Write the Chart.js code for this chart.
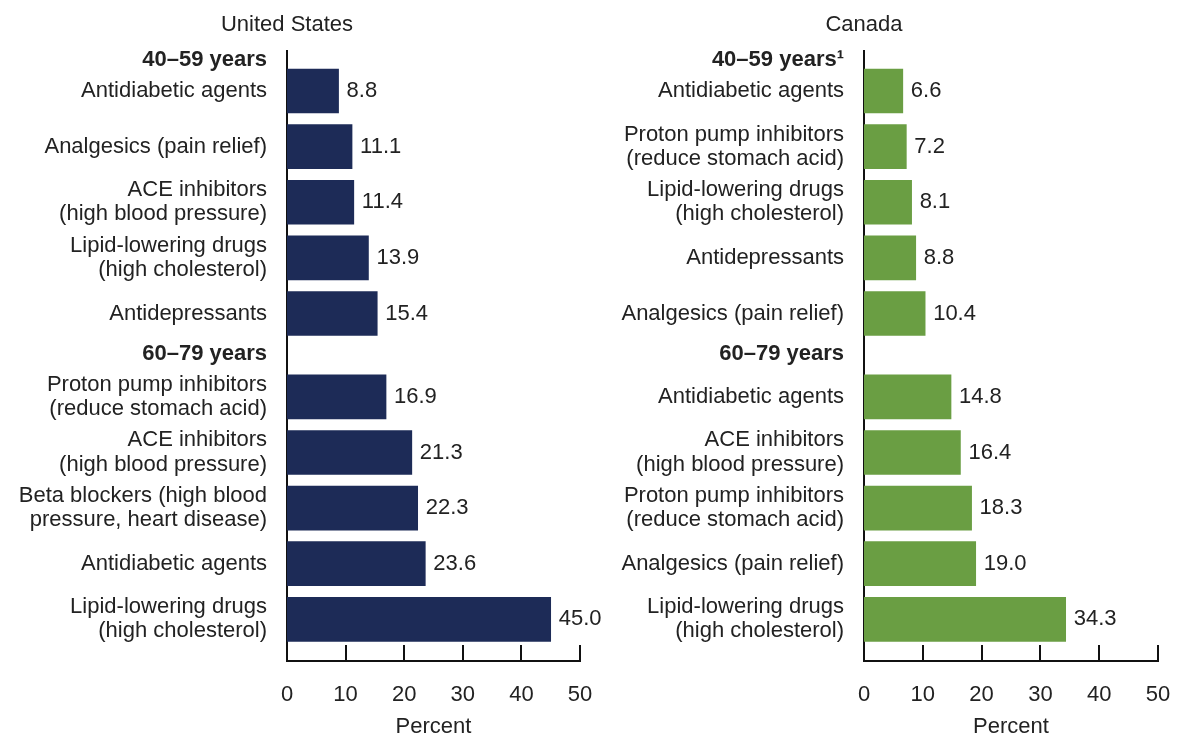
<!DOCTYPE html>
<html>
<head>
<meta charset="utf-8">
<script src="https://cdn.jsdelivr.net/npm/chart.js@4.4.1/dist/chart.umd.min.js"></script>
<style>
  html, body { margin: 0; padding: 0; background: #ffffff; }
  #wrap { position: relative; width: 1180px; height: 740px; overflow: hidden; }
  .panel { position: absolute; top: 0; height: 740px; }
</style>
</head>
<body>
<div id="wrap">
  <div class="panel" style="left:0;width:620px"><canvas id="us" width="620" height="740"></canvas></div>
  <div class="panel" style="left:590px;width:590px"><canvas id="ca" width="590" height="740"></canvas></div>
</div>
<script>
// ---- data ----
const usAgeGroups = ['40–59 years', '60–79 years'];
const caAgeGroups = ['40–59 years¹', '60–79 years'];

const usDrugs4059 = [
  ['Antidiabetic agents'],
  ['Analgesics (pain relief)'],
  ['ACE inhibitors', '(high blood pressure)'],
  ['Lipid-lowering drugs', '(high cholesterol)'],
  ['Antidepressants']
];
const usValues4059 = [8.8, 11.1, 11.4, 13.9, 15.4];

const usDrugs6079 = [
  ['Proton pump inhibitors', '(reduce stomach acid)'],
  ['ACE inhibitors', '(high blood pressure)'],
  ['Beta blockers (high blood', 'pressure, heart disease)'],
  ['Antidiabetic agents'],
  ['Lipid-lowering drugs', '(high cholesterol)']
];
const usValues6079 = [16.9, 21.3, 22.3, 23.6, 45.0];

const caDrugs4059 = [
  ['Antidiabetic agents'],
  ['Proton pump inhibitors', '(reduce stomach acid)'],
  ['Lipid-lowering drugs', '(high cholesterol)'],
  ['Antidepressants'],
  ['Analgesics (pain relief)']
];
const caValues4059 = [6.6, 7.2, 8.1, 8.8, 10.4];

const caDrugs6079 = [
  ['Antidiabetic agents'],
  ['ACE inhibitors', '(high blood pressure)'],
  ['Proton pump inhibitors', '(reduce stomach acid)'],
  ['Analgesics (pain relief)'],
  ['Lipid-lowering drugs', '(high cholesterol)']
];
const caValues6079 = [14.8, 16.4, 18.3, 19.0, 34.3];

const percentTicks = [0, 10, 20, 30, 40, 50];

// ---- layout ----
const GROUP_GAP = 0.5;            // extra half row between age groups
const HEADER_LIFT = [0.56, 0.78]; // how far each group heading sits above its first bar
const FONT = '"Liberation Sans", Arial, Helvetica, sans-serif';
const TEXT = '#222222';
const AXIS = '#111111';

Chart.defaults.font.family = FONT;
Chart.defaults.color = TEXT;

// Turn age groups into y-axis rows (headings + drugs) and bar points
function buildRows(groups, drugLists, valueLists) {
  const rows = [];
  const bars = [];
  let pos = 0;
  groups.forEach((g, gi) => {
    if (gi > 0) pos += GROUP_GAP;
    rows.push({ value: pos - HEADER_LIFT[gi], label: g, header: true });
    drugLists[gi].forEach((d, j) => {
      rows.push({ value: pos, label: d, header: false });
      bars.push({ x: valueLists[gi][j], y: pos });
      pos += 1;
    });
  });
  return { rows, bars };
}

// Panel title above the y axis, inward tick marks, and value labels at bar ends
const panelDecor = {
  id: 'panelDecor',
  afterDraw(chart, args, opts) {
    const { ctx, chartArea, scales } = chart;
    ctx.save();
    ctx.fillStyle = TEXT;
    ctx.font = '22px ' + FONT;
    ctx.textAlign = 'center';
    ctx.textBaseline = 'middle';
    ctx.fillText(opts.text, chartArea.left, 25);

    ctx.strokeStyle = AXIS;
    ctx.lineWidth = 2;
    percentTicks.forEach(v => {
      if (v === 0) return;
      const px = Math.round(scales.x.getPixelForValue(v));
      ctx.beginPath();
      ctx.moveTo(px, chartArea.bottom);
      ctx.lineTo(px, chartArea.bottom - 16);
      ctx.stroke();
    });

    const meta = chart.getDatasetMeta(0);
    const pts = chart.data.datasets[0].data;
    ctx.textAlign = 'left';
    meta.data.forEach((el, i) => {
      ctx.fillText(pts[i].x.toFixed(1), el.x + 8, el.y);
    });
    ctx.restore();
  }
};

function noEdgePadding(s) {
  s.paddingLeft = 0;
  s.paddingRight = 0;
  s.paddingTop = 0;
  s.paddingBottom = 0;
}

function makeChart(id, country, data, color, padRight, yWidth) {
  return new Chart(document.getElementById(id), {
    type: 'bar',
    data: {
      datasets: [{
        data: data.bars,
        backgroundColor: color,
        borderWidth: 0,
        barThickness: 44
      }]
    },
    options: {
      indexAxis: 'y',
      responsive: false,
      animation: false,
      events: [],
      layout: { padding: { top: 51, right: padRight, left: 0, bottom: 0 } },
      plugins: {
        legend: { display: false },
        tooltip: { enabled: false },
        panelDecor: { text: country }
      },
      scales: {
        x: {
          type: 'linear',
          position: 'bottom',
          min: 0,
          max: 50,
          offset: false,
          afterBuildTicks: s => { s.ticks = percentTicks.map(v => ({ value: v })); },
          afterFit: s => { s.height = 79; noEdgePadding(s); },
          grid: { display: false, drawTicks: false },
          border: { display: true, color: AXIS, width: 2 },
          ticks: { padding: 21, color: TEXT, maxRotation: 0, font: { size: 22 } },
          title: { display: true, text: 'Percent', color: TEXT, font: { size: 22 }, padding: 0 }
        },
        y: {
          type: 'linear',
          reverse: true,
          offset: false,
          min: -0.72,
          max: 10.25,
          afterBuildTicks: s => {
            s.ticks = data.rows.map(r => ({ value: r.value, header: r.header }));
          },
          afterFit: s => { s.width = yWidth; noEdgePadding(s); },
          grid: { display: false, drawTicks: false },
          border: { display: true, color: AXIS, width: 2 },
          ticks: {
            autoSkip: false,
            padding: 20,
            color: TEXT,
            callback: (v, i) => data.rows[i].label,
            font: c => ({
              size: 22,
              lineHeight: 1.1,
              weight: c.tick && c.tick.header ? 'bold' : 'normal'
            })
          }
        }
      }
    },
    plugins: [panelDecor]
  });
}

const usData = buildRows(usAgeGroups, [usDrugs4059, usDrugs6079], [usValues4059, usValues6079]);
const caData = buildRows(caAgeGroups, [caDrugs4059, caDrugs6079], [caValues4059, caValues6079]);

makeChart('us', 'United States', usData, '#1d2b57', 40, 287);
makeChart('ca', 'Canada', caData, '#6a9e43', 22, 274);
</script>
</body>
</html>
